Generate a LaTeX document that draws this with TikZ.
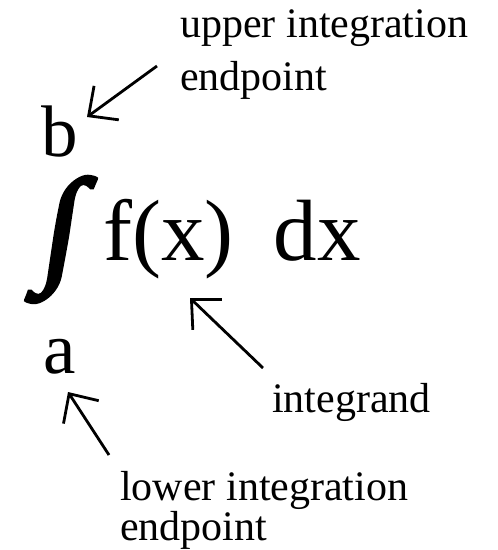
\documentclass[tikz,border=0pt]{standalone}
\usepackage{fontspec}
\setmainfont{Liberation Serif}
\newfontfamily\intfont[FakeBold=3,FakeSlant=0.15]{Liberation Serif}
\usetikzlibrary{arrows.meta,positioning}
\tikzset{
  lbl/.style={anchor=base west,inner sep=0pt,align=left,
              font=\fontsize{42}{53}\selectfont},
  lbll/.style={lbl,font=\fontsize{42}{40}\selectfont},
  sym/.style={anchor=base west,inner sep=0pt},
  ptr/.style={-{Straight Barb[length=22pt,width=42pt]},line width=2.8pt},
}
\begin{document}
\begin{tikzpicture}[x=1pt,y=-1pt]
  \useasboundingbox (0,0) rectangle (498,550);
  % the formula
  \node[sym,xscale=1.05,font=\intfont\fontsize{128}{128}\selectfont] (intg) at (38,268) {∫};
  \node[sym,font=\fontsize{87}{87}\selectfont] (fx) at (103,260) {f(x)\hspace{40pt}dx};
  \node[sym,font=\fontsize{73}{73}\selectfont] (ub) at (41,156) {b};
  \node[sym,font=\fontsize{73}{73}\selectfont] (lb) at (43,373) {a};

  % labels
  \node[lbl] (upper) at (180,90) {upper integration\\endpoint};
  \node[lbl] (igd) at (272,412) {integrand};
  \node[lbll] (lower) at (120,540) {lower integration\\endpoint};

  % arrows
  \coordinate (uptail) at (157,66);
  \coordinate (uptip) at (87,117);
  \coordinate (igtail) at (263,368);
  \coordinate (igtip) at (190,298);
  \coordinate (lotail) at (109,455);
  \coordinate (lotip) at (68,392);
  \draw[ptr] (uptail) -- (uptip);
  \draw[ptr] (igtail) -- (igtip);
  \draw[ptr] (lotail) -- (lotip);
\end{tikzpicture}
\end{document}
